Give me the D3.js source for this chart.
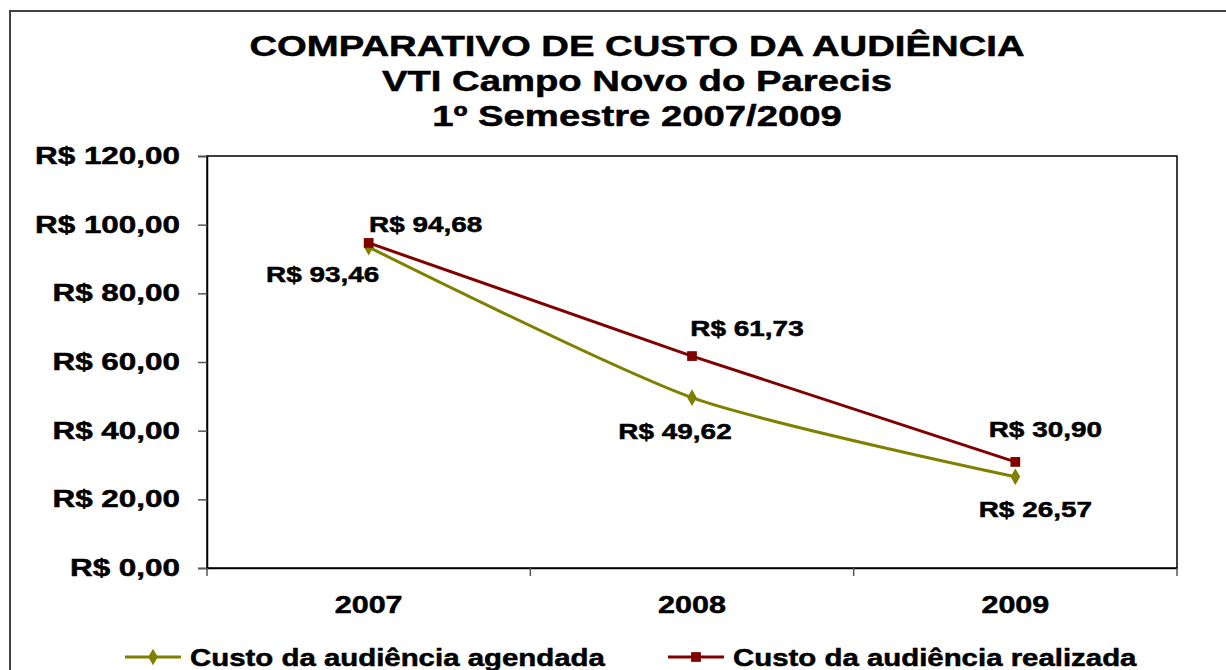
<!DOCTYPE html>
<html>
<head>
<meta charset="utf-8">
<script src="https://cdn.jsdelivr.net/npm/d3@7"></script>
<style>
  body { margin: 0; background: #fff; }
  text { font-family: "Liberation Sans", Arial, sans-serif; font-weight: bold; fill: #000; stroke: #000; stroke-width: 0.5px; }
</style>
</head>
<body>
<svg width="1226" height="670"></svg>
<script>
const svg = d3.select("svg");
const width = +svg.attr("width");
const height = +svg.attr("height");

// dados
const years = ["2007", "2008", "2009"];
const agendada = [93.46, 49.62, 26.57];
const realizada = [94.68, 61.73, 30.90];
const yTicks = [0, 20, 40, 60, 80, 100, 120];
const titleLines = ["COMPARATIVO DE CUSTO DA AUDIÊNCIA", "VTI Campo Novo do Parecis", "1º Semestre 2007/2009"];
const seriesNames = ["Custo da audiência agendada", "Custo da audiência realizada"];

const fmt = v => "R$ " + d3.format(",.2f")(v).replace(/,/g, "X").replace(".", ",").replace(/X/g, ".");

const m = { left: 207, top: 156, right: 1177, bottom: 568 };

const x = d3.scaleBand().domain(years).range([m.left, m.right]);
const y = d3.scaleLinear().domain([0, 120]).range([m.bottom, m.top]);

// texto esticado na horizontal, como no original
function txt(g, s, tx, ty, size, anchor, sx) {
    return g.append("text")
        .attr("transform", `translate(${tx},${ty}) scale(${sx || 1.27},1)`)
        .attr("font-size", size)
        .attr("text-anchor", anchor || "middle")
        .text(s);
}

// moldura
svg.append("rect")
    .attr("x", 10).attr("y", 11)
    .attr("width", width).attr("height", height)
    .attr("fill", "none")
    .attr("stroke", "#404040")
    .attr("stroke-width", 2);

// título
titleLines.forEach((t, i) => txt(svg, t, 637, 56 + i * 35, 29, "middle", 1.32));

// área do gráfico
svg.append("rect")
    .attr("x", m.left).attr("y", m.top)
    .attr("width", m.right - m.left).attr("height", m.bottom - m.top)
    .attr("fill", "none")
    .attr("stroke", "#000")
    .attr("stroke-width", 1.5);

// eixo y
const yAxis = svg.append("g")
    .attr("transform", `translate(${m.left},0)`)
    .call(d3.axisLeft(y).tickValues(yTicks).tickSize(9).tickFormat(""));
yAxis.select(".domain").attr("stroke", "#000").attr("stroke-width", 1.5);
yAxis.selectAll(".tick line").attr("stroke", "#555").attr("stroke-width", 1.5);
yTicks.forEach(v => txt(svg, fmt(v), 180, y(v) + 8, 24, "end", 1.31));

// eixo x
const xAxis = svg.append("g")
    .attr("transform", `translate(0,${m.bottom})`)
    .call(d3.axisBottom(x).tickSize(0).tickFormat(""));
xAxis.select(".domain").attr("stroke", "#000").attr("stroke-width", 1.5);
const bounds = years.map(d => x(d)).concat([m.right]);
svg.append("g").selectAll("line")
    .data(bounds)
    .enter()
    .append("line")
    .attr("x1", d => d).attr("x2", d => d)
    .attr("y1", m.bottom).attr("y2", m.bottom + 8)
    .attr("stroke", "#555")
    .attr("stroke-width", 1.5);
years.forEach(d => txt(svg, d, x(d) + x.bandwidth() / 2, 613, 24));

const cx = d => x(d) + x.bandwidth() / 2;

// linhas
const olive = "#808000";
const red = "#800000";

svg.append("path")
    .datum(agendada)
    .attr("fill", "none")
    .attr("stroke", olive)
    .attr("stroke-width", 3)
    .attr("d", d3.line().x((d, i) => cx(years[i])).y(d => y(d)).curve(d3.curveCardinal.tension(0.3)));

svg.append("path")
    .datum(realizada)
    .attr("fill", "none")
    .attr("stroke", red)
    .attr("stroke-width", 3)
    .attr("d", d3.line().x((d, i) => cx(years[i])).y(d => y(d)));

const diamond = d3.symbol().type(d3.symbolDiamond).size(80);
const square = d3.symbol().type(d3.symbolSquare).size(95);

svg.append("g").selectAll("path")
    .data(agendada)
    .enter()
    .append("path")
    .attr("transform", (d, i) => `translate(${cx(years[i])},${y(d)})`)
    .attr("d", diamond)
    .attr("fill", olive);

svg.append("g").selectAll("path")
    .data(realizada)
    .enter()
    .append("path")
    .attr("transform", (d, i) => `translate(${cx(years[i])},${y(d)})`)
    .attr("d", square)
    .attr("fill", red);

// rótulos
const agOff = [[-46, 35], [-17, 41], [20, 40]];
const reOff = [[57, -11], [55, -20], [30, -25]];
agendada.forEach((v, i) => txt(svg, fmt(v), cx(years[i]) + agOff[i][0], y(v) + agOff[i][1], 22));
realizada.forEach((v, i) => txt(svg, fmt(v), cx(years[i]) + reOff[i][0], y(v) + reOff[i][1], 22));

// legenda
const legend = [
    { x: 125, color: olive, sym: diamond },
    { x: 668, color: red, sym: square }
];
legend.forEach((l, i) => {
    const g = svg.append("g");
    g.append("line")
        .attr("x1", l.x).attr("x2", l.x + 56)
        .attr("y1", 657).attr("y2", 657)
        .attr("stroke", l.color).attr("stroke-width", 3);
    g.append("path")
        .attr("transform", `translate(${l.x + 28},657)`)
        .attr("d", l.sym)
        .attr("fill", l.color);
    txt(g, seriesNames[i], l.x + 65, 666, 24, "start", 1.225);
});
</script>
</body>
</html>
